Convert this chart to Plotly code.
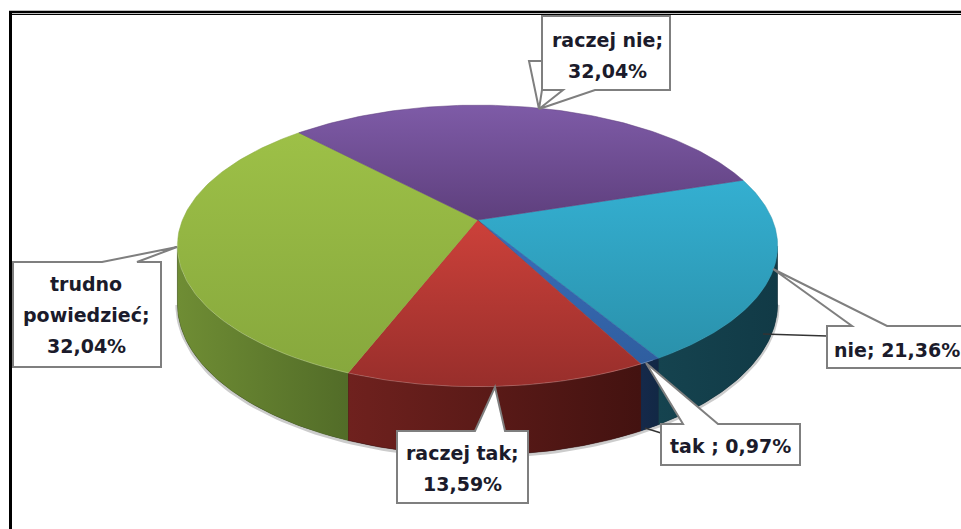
"""
3D-looking pie (survey answers), drawn as projected wedges on pixel axes.
"""
import numpy as np
import plotly.graph_objects as go

# --- Data ---
categories = ['nie', 'tak ', 'raczej tak', 'trudno powiedzieć', 'raczej nie']
values = [21.36, 0.97, 13.59, 32.04, 32.04]
label_lines = [['nie; 21,36%'], ['tak ; 0,97%'], ['raczej tak;', '13,59%'],
               ['trudno', 'powiedzieć;', '32,04%'], ['raczej nie;', '32,04%']]

# (far edge, near edge) of each top face
top_colors = [('#34AFD1', '#2A91AB'), ('#3A6DBB', '#2F5E9F'), ('#CC413A', '#982E2B'),
              ('#9DC047', '#87A83D'), ('#7E5BA7', '#5E3F7D')]
# (left, right) of each wall
wall_colors = [('#15434F', '#113A46'), ('#15294A', '#122845'), ('#6F211E', '#431210'),
               ('#6F8D34', '#526C28'), ('#555555', '#555555')]

# --- Geometry of the projected disc ---
CX, CY = 477.5, 220
R, S, K = 295, 136, 0.184
DEPTH = 56
START_ANGLE = 72
LINE_STEP = 31
# where the rim turns away from the viewer
SIL_RIGHT = np.degrees(np.arccos(-K))
SIL_LEFT = 360 - SIL_RIGHT


def project(theta, radius=1.0, lift=0.0):
    t = np.radians(theta)
    w = 1 + K * radius * np.cos(t)
    return CX + R * radius * np.sin(t) / w, CY + (lift - S * radius * np.cos(t)) / w


def wall_outline(a0, a1, n):
    arc = np.linspace(a0, a1, n)
    tx, ty = project(arc)
    bx, by = project(arc[::-1], lift=DEPTH)
    return np.r_[tx, bx], np.r_[ty, by]


def gradient(kind, pair):
    return dict(type=kind, colorscale=[[0, pair[0]], [1, pair[1]]])


fig = go.Figure()

# soft shadow under the front edge
arc = np.linspace(SIL_RIGHT, SIL_LEFT, 120)
sx, sy = project(arc, lift=DEPTH + 1)
fig.add_trace(go.Scatter(x=sx, y=sy, mode='lines', line=dict(color='rgba(0,0,0,0.2)', width=4),
                         hoverinfo='skip'))

bounds = START_ANGLE + np.concatenate([[0], np.cumsum(values)]) * 3.6

# dark band under the walls so no white seams show between them
bx, by = wall_outline(SIL_RIGHT, SIL_LEFT, 160)
fig.add_trace(go.Scatter(x=bx, y=by, mode='lines', fill='toself',
                         line=dict(width=0), fillcolor='#2A2A30', hoverinfo='skip'))

# only the front part of each wall is ever visible
for i in range(len(values)):
    a0, a1 = max(bounds[i], SIL_RIGHT), min(bounds[i + 1], SIL_LEFT)
    if a1 <= a0:
        continue
    wx, wy = wall_outline(a0, a1, 80)
    fig.add_trace(go.Scatter(x=wx, y=wy, mode='lines', fill='toself',
                             line=dict(width=0.5, color=wall_colors[i][1]), hoverinfo='skip',
                             fillgradient=gradient('horizontal', wall_colors[i])))

for i, name in enumerate(categories):
    arc = np.linspace(bounds[i], bounds[i + 1], 120)
    tx, ty = project(arc)
    fig.add_trace(go.Scatter(x=np.r_[CX, tx, CX], y=np.r_[CY, ty, CY], mode='lines', fill='toself',
                             line=dict(width=0.5, color=top_colors[i][1]), name=name, hoverinfo='name',
                             fillgradient=gradient('vertical', top_colors[i][::-1])))

# light rim along the front edge
arc = np.linspace(150, 262, 100)
rx, ry = project(arc)
fig.add_trace(go.Scatter(x=rx, y=ry, mode='lines', line=dict(color='rgba(255,255,255,0.22)', width=1),
                         hoverinfo='skip'))

# --- Callouts: outline, then text ---
callouts = [
    'M827,326 H852 L773,269 L887,326 H970 V368 H827 Z',
    'M661,424 H683 L646,363 L718,424 H800 V465 H661 Z',
    'M397,431 H475 L495,387 L505,431 H528 V503 H397 Z',
    'M13,262 H102 L177,247 L137,262 H161 V367 H13 Z',
    'M542,16 H670 V90 H595 L539,109 L563,90 H542 V61 H529 L539,109 L542,90 Z',
]
# anchor x, y of the middle line, alignment
text_pos = [(832, 349.5, 'left'), (730, 445.5, 'center'), (462, 468, 'center'),
            (86, 315, 'center'), (607, 55.5, 'center')]

shapes = []
for x0, y0, x1, y1 in [(645, 428, 661, 433), (763, 334, 827, 336)]:
    shapes.append(dict(type='line', x0=x0, y0=y0, x1=x1, y1=y1, line=dict(color='#333333', width=1.5)))
for path in callouts:
    shapes.append(dict(type='path', path=path, fillcolor='white', line=dict(color='#7F7F7F', width=2)))

# page frame, open on the right and at the bottom
shapes.append(dict(type='line', x0=9, y0=12, x1=961, y1=12, line=dict(color='black', width=2.5)))
shapes.append(dict(type='line', x0=9, y0=14.5, x1=961, y1=14.5, line=dict(color='black', width=1)))
shapes.append(dict(type='line', x0=10.5, y0=11, x1=10.5, y1=529, line=dict(color='black', width=3)))

annotations = []
for lines, (x, y, align) in zip(label_lines, text_pos):
    first_y = y - LINE_STEP * (len(lines) - 1) / 2
    for n, line in enumerate(lines):
        annotations.append(dict(x=x, y=first_y + n * LINE_STEP, text=line, showarrow=False, xanchor=align,
                                font=dict(family='DejaVu Sans', size=19, color='#1B1B2B', weight='bold')))

fig.update_layout(
    width=961, height=529, margin=dict(l=0, r=0, t=0, b=0),
    paper_bgcolor='white', plot_bgcolor='white', showlegend=False,
    xaxis=dict(range=[0, 961], visible=False, fixedrange=True),
    yaxis=dict(range=[529, 0], visible=False, fixedrange=True),
    shapes=shapes, annotations=annotations,
)
fig.write_html("out.html", config=dict(displayModeBar=False),
               post_script="document.body.style.margin='0';document.body.style.overflow='hidden';")
